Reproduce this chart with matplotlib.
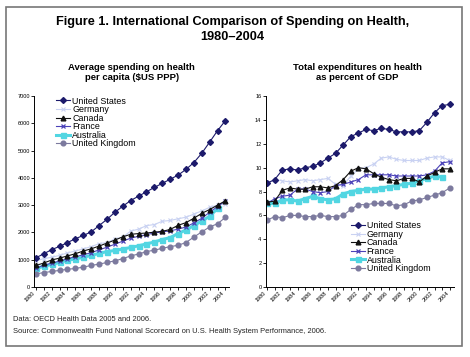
import numpy as np
import matplotlib
matplotlib.use('Agg')
import matplotlib.pyplot as plt
from matplotlib.patches import Rectangle

plt.rcParams['font.family'] = ['Liberation Sans', 'DejaVu Sans']

years = list(range(1980, 2005))
countries = ['United States', 'Germany', 'Canada', 'France', 'Australia', 'United Kingdom']

# spending per capita, $US PPP
us_pc = [1070, 1220, 1370, 1490, 1630, 1770, 1890, 2020, 2250, 2480, 2740, 2960, 3170,
         3330, 3490, 3650, 3800, 3950, 4100, 4310, 4560, 4900, 5310, 5730, 6100]
de_pc = [960, 1040, 1090, 1160, 1250, 1320, 1400, 1480, 1590, 1630, 1760, 1830, 2050,
         2120, 2250, 2290, 2410, 2440, 2500, 2560, 2670, 2790, 2920, 3000, 3040]
ca_pc = [790, 880, 990, 1060, 1140, 1220, 1320, 1400, 1500, 1610, 1720, 1840, 1930,
         1960, 1980, 2010, 2040, 2110, 2260, 2360, 2520, 2700, 2840, 3000, 3160]
fr_pc = [700, 790, 880, 950, 1040, 1110, 1180, 1260, 1360, 1460, 1570, 1680, 1790,
         1860, 1920, 1980, 2020, 2060, 2120, 2200, 2350, 2520, 2740, 2950, 3160]
au_pc = [680, 760, 830, 900, 980, 1030, 1090, 1160, 1230, 1300, 1340, 1390, 1450,
         1510, 1580, 1650, 1740, 1810, 1960, 2090, 2250, 2420, 2590, 2880, None]
uk_pc = [480, 530, 570, 610, 650, 680, 730, 790, 840, 900, 960, 1040, 1140,
         1210, 1300, 1350, 1420, 1480, 1530, 1630, 1830, 2020, 2200, 2320, 2550]

# total expenditure as percent of GDP
us_gdp = [8.7, 9.0, 9.8, 9.9, 9.8, 10.0, 10.1, 10.4, 10.8, 11.2, 11.9, 12.6, 12.9,
          13.2, 13.1, 13.3, 13.2, 13.0, 13.0, 13.0, 13.1, 13.8, 14.6, 15.2, 15.3]
de_gdp = [8.7, 9.0, 8.9, 8.8, 8.9, 9.0, 8.9, 9.0, 9.1, 8.6, 8.5, 9.3, 9.9,
          10.0, 10.3, 10.8, 10.9, 10.7, 10.6, 10.6, 10.6, 10.8, 10.9, 10.9, 10.6]
ca_gdp = [7.1, 7.2, 8.1, 8.3, 8.2, 8.2, 8.4, 8.4, 8.3, 8.5, 9.0, 9.7, 10.0,
          9.9, 9.5, 9.2, 9.0, 8.9, 9.1, 9.1, 8.8, 9.3, 9.6, 9.9, 9.9]
fr_gdp = [7.0, 7.4, 7.6, 7.7, 8.2, 8.2, 8.0, 7.9, 8.0, 8.5, 8.6, 8.8, 9.0,
          9.4, 9.4, 9.4, 9.4, 9.3, 9.3, 9.3, 9.3, 9.4, 9.7, 10.4, 10.5]
au_gdp = [7.0, 7.0, 7.3, 7.3, 7.2, 7.4, 7.6, 7.4, 7.3, 7.4, 7.8, 8.0, 8.1,
          8.2, 8.2, 8.3, 8.4, 8.5, 8.6, 8.7, 8.9, 9.1, 9.3, 9.2, None]
uk_gdp = [5.6, 5.9, 5.8, 6.0, 6.0, 5.9, 5.9, 6.0, 5.9, 5.9, 6.0, 6.5, 6.9,
          6.9, 7.0, 7.0, 7.0, 6.8, 6.9, 7.2, 7.3, 7.5, 7.7, 7.9, 8.3]

styles = [
    dict(color='#1c1a6b', marker='D', ms=3.0, lw=0.8, mfc='#1c1a6b', mec='#1c1a6b'),
    dict(color='#c9d2f2', marker='x', ms=3.4, lw=0.8, mew=0.8),
    dict(color='#111111', marker='^', ms=3.4, lw=0.8),
    dict(color='#4b42b8', marker='x', ms=3.4, lw=0.8, mew=0.9),
    dict(color='#52d6e2', marker='s', ms=3.6, lw=2.2),
    dict(color='#7c7a9e', marker='o', ms=3.4, lw=0.8),
]


def to_arr(v):
    return np.array([np.nan if a is None else a for a in v], dtype=float)


def setup(ax, ymax, ystep):
    ax.set_xlim(1979.8, 2004.5)
    ax.set_ylim(0, ymax)
    ax.set_yticks(np.arange(0, ymax + 1, ystep))
    ax.set_xticks(years, minor=False)
    ax.set_xticklabels([str(y) if y % 2 == 0 else '' for y in years],
                       rotation=45, ha='right', fontsize=4.0)
    ax.tick_params(axis='y', labelsize=4.0, length=2, width=0.6, pad=1)
    ax.tick_params(axis='x', length=2, width=0.6, pad=0.5)
    for s in ['top', 'right']:
        ax.spines[s].set_visible(False)
    for s in ['left', 'bottom']:
        ax.spines[s].set_linewidth(0.7)


fig = plt.figure(figsize=(4.7, 3.57), dpi=100)
fig.patches.append(Rectangle((0.012, 0.03), 0.972, 0.95, transform=fig.transFigure,
                             fill=False, edgecolor='#777777', lw=1.2))

fig.text(0.495, 0.937, 'Figure 1. International Comparison of Spending on Health,',
         ha='center', va='center', fontsize=9.2, fontweight='heavy')
fig.text(0.495, 0.895, '1980\u20132004', ha='center', va='center', fontsize=9.2, fontweight='heavy')

ax1 = fig.add_axes([0.073, 0.196, 0.415, 0.535])
ax2 = fig.add_axes([0.565, 0.196, 0.40, 0.535])

fig.text(0.28, 0.798, 'Average spending on health\nper capita ($US PPP)', ha='center',
         va='center', fontsize=6.8, fontweight='bold', linespacing=1.15)
fig.text(0.76, 0.798, 'Total expenditures on health\nas percent of GDP', ha='center',
         va='center', fontsize=6.8, fontweight='bold', linespacing=1.15)

pc_data = [us_pc, de_pc, ca_pc, fr_pc, au_pc, uk_pc]
gdp_data = [us_gdp, de_gdp, ca_gdp, fr_gdp, au_gdp, uk_gdp]

draw_order = [4, 5, 1, 3, 2, 0]
lines1 = {}
lines2 = {}
for i in draw_order:
    lines1[i], = ax1.plot(years, to_arr(pc_data[i]), label=countries[i], **styles[i])
    lines2[i], = ax2.plot(years, to_arr(gdp_data[i]), label=countries[i], **styles[i])

setup(ax1, 7000, 1000)
setup(ax2, 16, 2)

h1 = [lines1[i] for i in range(6)]
h2 = [lines2[i] for i in range(6)]
ax1.legend(h1, countries, loc='upper left', bbox_to_anchor=(0.08, 1.03), fontsize=6.4,
           frameon=False, handlelength=1.6, handletextpad=0.2, labelspacing=-0.05,
           borderpad=0.2)
ax2.legend(h2, countries, loc='lower left', bbox_to_anchor=(0.42, 0.04), fontsize=6.4,
           frameon=False, handlelength=1.6, handletextpad=0.2, labelspacing=-0.05,
           borderpad=0.2)

fig.text(0.028, 0.105, 'Data: OECD Health Data 2005 and 2006.', fontsize=5.4,
         va='center', color='#222222')
fig.text(0.028, 0.072, 'Source: Commonwealth Fund National Scorecard on U.S. Health System '
         'Performance, 2006.', fontsize=5.4, va='center', color='#222222')

fig.savefig('out.png', dpi=100)
